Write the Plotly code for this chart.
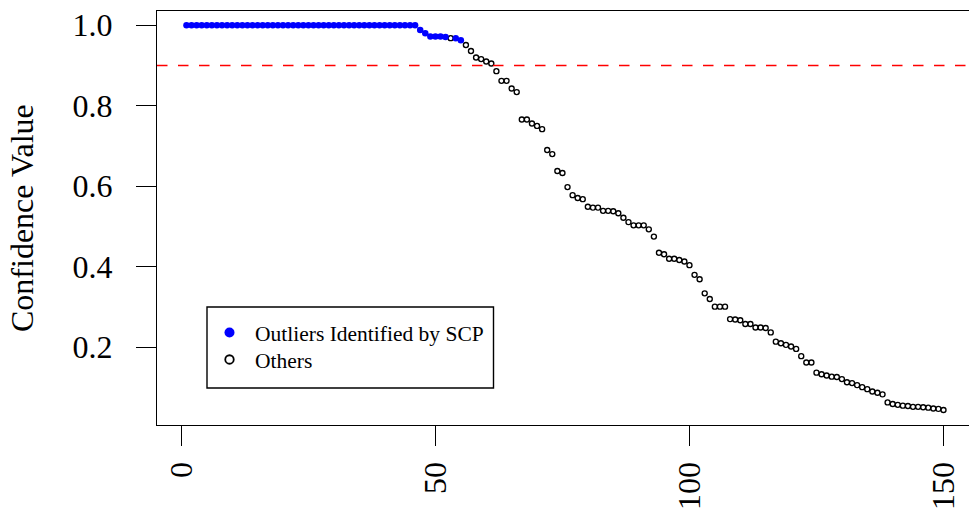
import plotly.graph_objects as go

# ---- data ----
index = list(range(1, 151))
confidence = [1.0] * 46 + [
    0.988, 0.980, 0.972, 0.972, 0.972, 0.971, 0.968, 0.968, 0.963, 0.951,   # 47-56
    0.936, 0.920, 0.916, 0.910, 0.905, 0.886, 0.862, 0.862, 0.843, 0.834,   # 57-66
    0.766, 0.766, 0.756, 0.750, 0.742, 0.690, 0.680, 0.638, 0.633, 0.598,   # 67-76
    0.578, 0.571, 0.568, 0.549, 0.547, 0.547, 0.539, 0.539, 0.538, 0.533,   # 77-86
    0.522, 0.511, 0.503, 0.503, 0.503, 0.493, 0.475, 0.435, 0.431, 0.420,   # 87-96
    0.420, 0.417, 0.413, 0.404, 0.380, 0.369, 0.334, 0.320, 0.301, 0.301,   # 97-106
    0.301, 0.270, 0.269, 0.267, 0.258, 0.258, 0.249, 0.249, 0.248, 0.237,   # 107-116
    0.214, 0.210, 0.206, 0.202, 0.196, 0.178, 0.162, 0.162, 0.137, 0.133,   # 117-126
    0.130, 0.127, 0.126, 0.121, 0.113, 0.111, 0.106, 0.101, 0.096, 0.090,   # 127-136
    0.087, 0.083, 0.063, 0.059, 0.057, 0.055, 0.054, 0.052, 0.052, 0.051,   # 137-146
    0.050, 0.048, 0.047, 0.044,                                             # 147-150
]
scp_outliers = list(range(1, 53)) + [54, 55]
threshold = 0.9
x_ticks = [0, 50, 100, 150]
y_ticks = [0.2, 0.4, 0.6, 0.8, 1.0]
legend_labels = ["Outliers Identified by SCP", "Others"]
y_title = "Confidence Value"

outlier_set = set(scp_outliers)
bx = [i for i in index if i in outlier_set]
by = [confidence[i - 1] for i in bx]
ox = [i for i in index if i not in outlier_set]
oy = [confidence[i - 1] for i in ox]

FONT = "Liberation Serif, Times New Roman, serif"

fig = go.Figure()
fig.add_trace(go.Scatter(
    x=ox, y=oy, mode="markers", showlegend=False,
    marker=dict(symbol="circle-open", size=5, color="black", line=dict(width=1.4, color="black")),
))
fig.add_trace(go.Scatter(
    x=bx, y=by, mode="markers", showlegend=False,
    marker=dict(symbol="circle", size=6.5, color="#0000FF", line=dict(width=0)),
))
# legend entries (larger symbols like R's legend), one legend per row
fig.add_trace(go.Scatter(
    x=[None], y=[None], mode="markers", name=legend_labels[0], legend="legend",
    marker=dict(symbol="circle", size=10, color="#0000FF", line=dict(width=0)),
))
fig.add_trace(go.Scatter(
    x=[None], y=[None], mode="markers", name=legend_labels[1], legend="legend2",
    marker=dict(symbol="circle-open", size=8.5, color="black", line=dict(width=1.8, color="black")),
))

L, R, T, B = 157, 0, 11, 89
W, H = 969, 514
pw, ph = W - L - R, H - T - B

def px_x(p):
    return (p - L) / pw

def px_y(p):
    return (H - B - p) / ph

fig.add_hline(y=threshold, line=dict(color="#FF0000", width=1.5, dash="10.5px,10.5px"))

# legend box
fig.add_shape(type="rect", xref="paper", yref="paper",
              x0=px_x(207), x1=px_x(493.5), y0=px_y(388), y1=px_y(307),
              line=dict(color="black", width=1.4), fillcolor="rgba(0,0,0,0)")

fig.add_annotation(text=y_title, xref="paper", yref="paper",
                   x=px_x(22), y=0.5, xanchor="center", yanchor="middle",
                   textangle=-90, showarrow=False,
                   font=dict(family=FONT, size=32, color="black"))

leg_common = dict(xanchor="left", yanchor="top", bgcolor="rgba(0,0,0,0)", borderwidth=0,
                  font=dict(family=FONT, size=21.5, color="black"),
                  itemsizing="trace", itemwidth=41)

fig.update_layout(
    width=W, height=H,
    margin=dict(l=L, r=R, t=T, b=B, pad=0, autoexpand=False),
    paper_bgcolor="white", plot_bgcolor="white",
    font=dict(family=FONT, size=32, color="black"),
    showlegend=True,
    legend=dict(x=px_x(204), y=px_y(312), **leg_common),
    legend2=dict(x=px_x(204), y=px_y(339), **leg_common),
    xaxis=dict(range=[-4.80, 155.02], tickmode="array", tickvals=x_ticks,
               ticktext=[str(v) for v in x_ticks], tickangle=-90,
               ticks="outside", ticklen=20, tickwidth=1.4, tickcolor="black",
               ticklabelstandoff=3, automargin=False,
               showline=True, linecolor="black", linewidth=1.4, mirror=True,
               showgrid=False, zeroline=False,
               tickfont=dict(family=FONT, size=32, color="black")),
    yaxis=dict(range=[0.0069, 1.0355], tickmode="array", tickvals=y_ticks,
               ticktext=[f"{v:.1f}" for v in y_ticks],
               ticks="outside", ticklen=20, tickwidth=1.4, tickcolor="black",
               ticklabelstandoff=17, automargin=False,
               showline=True, linecolor="black", linewidth=1.4, mirror=False,
               showgrid=False, zeroline=False,
               tickfont=dict(family=FONT, size=32, color="black")),
)

fig.write_html("out.html")
